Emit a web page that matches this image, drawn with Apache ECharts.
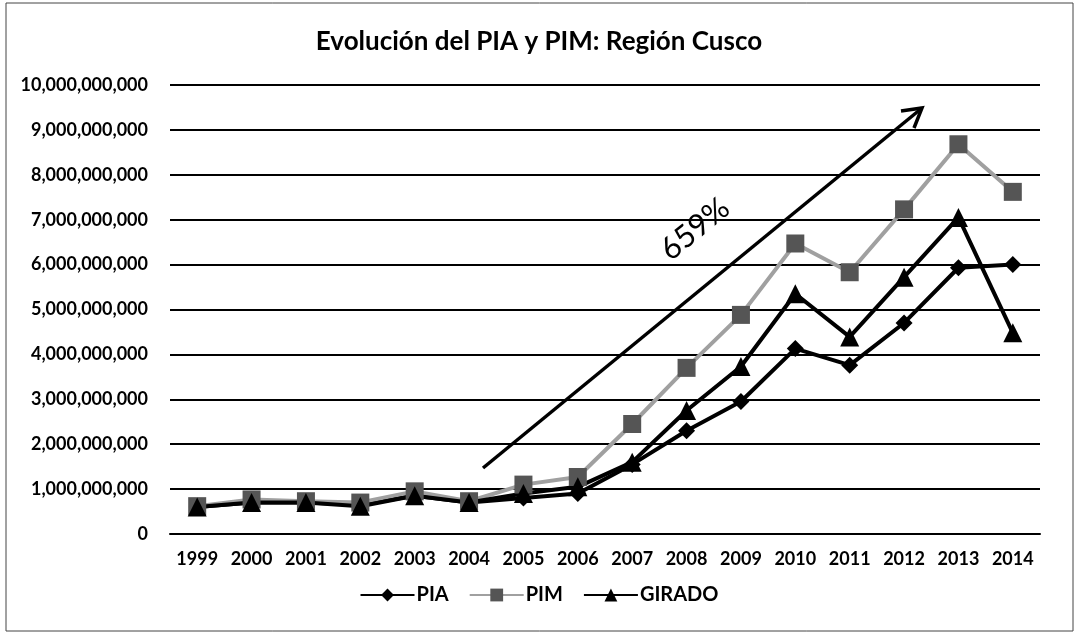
<!DOCTYPE html>
<html>
<head>
<meta charset="utf-8">
<script src="https://cdn.jsdelivr.net/npm/echarts@6/dist/echarts.min.js"></script>
<style>
  html, body { margin: 0; padding: 0; background: #fff; }
  #chart { width: 1078px; height: 634px; }
</style>
</head>
<body>
<div id="chart"></div>
<script>
// años del eje X
const years = ['1999', '2000', '2001', '2002', '2003', '2004', '2005', '2006',
  '2007', '2008', '2009', '2010', '2011', '2012', '2013', '2014'];

// valores (soles)
const pia = [600e6, 700e6, 700e6, 650e6, 850e6, 700e6, 800e6, 900e6,
  1550e6, 2300e6, 2950e6, 4130e6, 3760e6, 4700e6, 5930e6, 6000e6];
const pim = [620e6, 770e6, 730e6, 700e6, 950e6, 730e6, 1100e6, 1270e6,
  2450e6, 3700e6, 4880e6, 6470e6, 5830e6, 7230e6, 8680e6, 7620e6];
const girado = [600e6, 700e6, 700e6, 620e6, 850e6, 700e6, 900e6, 1050e6,
  1600e6, 2750e6, 3730e6, 5350e6, 4390e6, 5720e6, 7050e6, 4480e6];

const yTicks = { min: 0, max: 10e9, interval: 1e9 };

const font = 'Lato';

const chart = echarts.init(document.getElementById('chart'));

function fmt(v) {
  return v.toLocaleString('en-US');
}

chart.setOption({
  animation: false,
  backgroundColor: '#fff',
  title: {
    text: 'Evolución del PIA y PIM: Región Cusco',
    left: 'center',
    top: 24,
    textStyle: { fontFamily: font, fontWeight: 'bold', fontSize: 26, color: '#000' }
  },
  grid: { left: 170, right: 38, top: 85, bottom: 100 },
  legend: {
    bottom: 24,
    left: 'center',
    itemWidth: 54,
    itemHeight: 16,
    itemGap: 20,
    textStyle: { fontFamily: font, fontWeight: 'bold', fontSize: 20, color: '#000', padding: [0, 0, 0, -3] },
    data: ['PIA', 'PIM', 'GIRADO']
  },
  xAxis: {
    type: 'category',
    data: years,
    axisLine: { lineStyle: { color: '#000', width: 2 } },
    axisTick: { show: false },
    axisLabel: { fontFamily: font, fontWeight: 'bold', fontSize: 18, color: '#000', margin: 16 }
  },
  yAxis: {
    type: 'value',
    min: yTicks.min,
    max: yTicks.max,
    interval: yTicks.interval,
    axisLine: { show: false },
    axisTick: { show: false },
    splitLine: { lineStyle: { color: '#000', width: 2 } },
    axisLabel: {
      fontFamily: font, fontWeight: 'bold', fontSize: 18, color: '#000', margin: 22,
      formatter: fmt
    }
  },
  series: [
    {
      name: 'PIA', type: 'line', data: pia,
      symbol: 'diamond', symbolSize: 17,
      lineStyle: { color: '#000', width: 4 },
      itemStyle: { color: '#000' }
    },
    {
      name: 'PIM', type: 'line', data: pim,
      symbol: 'rect', symbolSize: 18,
      lineStyle: { color: '#a0a0a0', width: 4 },
      itemStyle: { color: '#555' }
    },
    {
      name: 'GIRADO', type: 'line', data: girado,
      symbol: 'triangle', symbolSize: 19,
      lineStyle: { color: '#000', width: 4 },
      itemStyle: { color: '#000' }
    }
  ],
  graphic: [
    {
      type: 'rect',
      shape: { x: 6, y: 3, width: 1067, height: 628 },
      style: { fill: null, stroke: '#444', lineWidth: 1 },
      silent: true
    },
    {
      type: 'line',
      shape: { x1: 483, y1: 468, x2: 922, y2: 108 },
      style: { stroke: '#000', lineWidth: 3.5 },
      z: 10
    },
    {
      type: 'polyline',
      shape: { points: [[901, 111], [922, 108], [914, 128]] },
      style: { stroke: '#000', lineWidth: 3.5, fill: null },
      z: 10
    },
    {
      type: 'text',
      x: 695, y: 229,
      rotation: 0.686,
      style: {
        text: '659%', fontFamily: font, fontSize: 31, fill: '#000',
        align: 'center', verticalAlign: 'middle'
      },
      z: 10
    }
  ]
});
</script>
</body>
</html>
